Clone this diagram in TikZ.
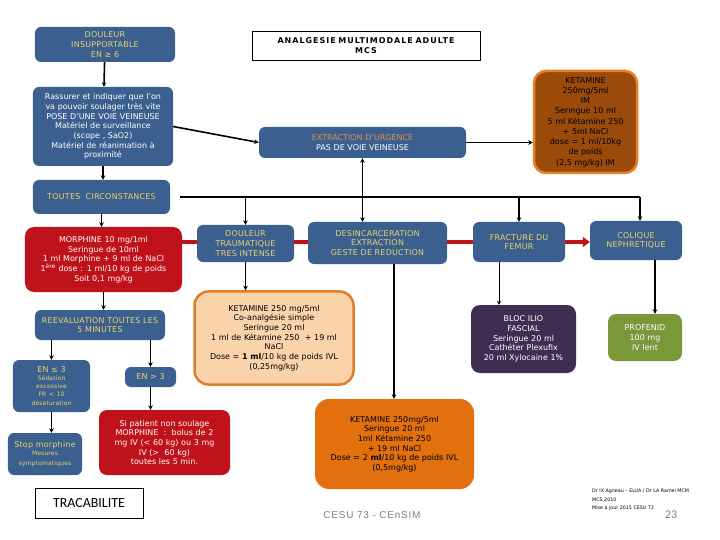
\documentclass[tikz,border=0pt]{standalone}
\usepackage{fontspec}
\setmainfont{DejaVu Sans}
\newfontfamily\calib{Carlito}
\newfontfamily\libsans[LetterSpace=8]{Liberation Sans}
\newfontfamily\capsfont[LetterSpace=3]{DejaVu Sans}
\usetikzlibrary{arrows.meta}
\definecolor{blueF}{HTML}{3B5F8E}
\definecolor{yellowT}{HTML}{E8D46C}
\definecolor{orangeT}{HTML}{E0904A}
\definecolor{redF}{HTML}{C0121A}
\definecolor{brownF}{HTML}{9A4B0C}
\definecolor{brownB}{HTML}{E8802A}
\definecolor{peachF}{HTML}{FAD3AB}
\definecolor{peachB}{HTML}{DC7E2A}
\definecolor{orangeF}{HTML}{E2700F}
\definecolor{purpleF}{HTML}{3E2F52}
\definecolor{greenF}{HTML}{7A973A}
\definecolor{greyT}{HTML}{808080}
\newcommand\fsz[2]{\fontsize{#1}{#2}\selectfont}
\tikzset{
  sz/.code 2 args={\pgfmathsetlengthmacro\mytw{#1*1bp-4bp}%
    \pgfkeysalso{minimum width=#1bp, minimum height=#2bp, text width=\mytw}},
  box/.style={rounded corners=6bp, inner sep=1bp, align=center, font=\fsz{8}{9.7}},
  bluebox/.style={box, fill=blueF, text=yellowT, font=\capsfont\fsz{8}{9.7}},
  redbox/.style={box, fill=redF, text=white},
  conn/.style={line width=1.6bp, -{Stealth[length=4.5bp,width=4.5bp]}},
  redconn/.style={line width=4.5bp, redF},
}
\begin{document}
\begin{tikzpicture}[x=1bp,y=-1bp]
\useasboundingbox (0,0) rectangle (720,540);
\fill[white] (0,0) rectangle (720,540);
% nodes
\node[bluebox, sz={140}{35}] (dinsup) at (105,44.5) {DOULEUR\\INSUPPORTABLE\\EN ≥ 6};
\node[draw=black, line width=0.8bp, sz={228}{29}, align=center, inner sep=1bp,
      font=\fsz{8}{10}\bfseries\addfontfeatures{LetterSpace=12.5}] (title) at (366,45.5)
      {ANALGESIE MULTIMODALE ADULTE\\MCS};
\node[box, fill=blueF, text=white, sz={140}{79}] (rass) at (103,126.5)
  {Rassurer et indiquer que l'on\\va pouvoir soulager très vite\\POSE D'UNE VOIE VEINEUSE\\Matériel de surveillance\\(scope , SaO2)\\Matériel de réanimation à\\proximité};
\node[box, fill=blueF, text=white, sz={207}{31}] (extr) at (362.5,142.5)
  {{\color{orangeT}EXTRACTION D'URGENCE}\\PAS DE VOIE VEINEUSE};
\node[box, fill=brownF, draw=brownB, line width=2.5bp, rounded corners=12bp, text=black,
      font=\fsz{8}{10.3}, sz={103}{102}] (ketim) at (585.5,122)
  {KETAMINE\\250mg/5ml\\IM\\Seringue 10 ml\\5 ml Kétamine 250\\+ 5ml NaCl\\dose = 1 ml/10kg\\de poids\\(2,5 mg/kg) IM};
\node[bluebox, sz={137}{34}] (toutes) at (101.5,197) {TOUTES\ \ CIRCONSTANCES};
\node[redbox, rounded corners=9bp, sz={157}{65}] (morph) at (103.5,259.5)
  {MORPHINE 10 mg/1ml\\Seringue de 10ml\\1 ml Morphine + 9 ml de NaCl\\1\textsuperscript{ère} dose : 1 ml/10 kg de poids\\Soit 0,1 mg/kg};
\node[bluebox, sz={97}{37}] (dtrau) at (245.5,243.5) {DOULEUR\\TRAUMATIQUE\\TRES INTENSE};
\node[bluebox, sz={139}{42}] (desinc) at (377.5,243) {DESINCARCERATION\\EXTRACTION\\GESTE DE REDUCTION};
\node[bluebox, sz={92}{40}] (fract) at (519,242) {FRACTURE DU\\FEMUR\\[8bp]};
\node[bluebox, sz={92}{39}] (coliq) at (636,240.5) {COLIQUE\\NEPHRETIQUE\\[6bp]};
\node[box, fill=peachF, draw=peachB, line width=2.5bp, rounded corners=14bp, text=black,
      sz={159}{93}] (ket1) at (274,338)
  {KETAMINE 250 mg/5ml\\Co-analgésie simple\\Seringue 20 ml\\1 ml de Kétamine 250 \ + 19 ml\\NaCl\\Dose = \textbf{1 ml}/10 kg de poids IVL\\(0,25mg/kg)};
\node[bluebox, sz={130}{30}] (reev) at (100,325) {REEVALUATION TOUTES LES\\5 MINUTES};
\node[bluebox, sz={77}{52}] (enle) at (51.5,386)
  {EN ≤ 3\\{\fsz{6}{8}Sédation\\excessive\\FR < 10\\désaturation}};
\node[bluebox, sz={51}{20}] (engt) at (150.5,377) {EN > 3};
\node[bluebox, sz={74}{42}] (stop) at (45,454) {Stop morphine\\{\fsz{6}{8}Mesures\\symptomatiques}};
\node[redbox, rounded corners=8bp, sz={131}{65}] (sipat) at (164.5,442.5)
  {Si patient non soulage\\MORPHINE \ : \ bolus de 2\\mg IV (< 60 kg) ou 3 mg\\IV (> \ 60 kg)\\toutes les 5 min.};
\node[box, fill=purpleF, text=white, rounded corners=9bp, sz={105}{68}] (bloc) at (523.5,339)
  {BLOC ILIO\\FASCIAL\\Seringue 20 ml\\Cathéter Plexufix\\20 ml Xylocaine 1\%};
\node[box, fill=greenF, text=white, rounded corners=8bp, sz={74}{47}] (prof) at (645,337.5)
  {PROFENID\\100 mg\\IV lent};
\node[box, fill=orangeF, text=black, rounded corners=14bp, sz={159}{90}] (ket2) at (394.5,444)
  {KETAMINE 250mg/5ml\\Seringue 20 ml\\1ml Kétamine 250\\+ 19 ml NaCl\\Dose = 2 \textbf{ml}/10 kg de poids IVL\\(0,5mg/kg)};
\node[draw=black, line width=0.8bp, sz={108}{30}, align=center, inner sep=1bp,
      font=\calib\fsz{14}{16}] (trac) at (89,503) {TRACABILITE};
\node[font=\libsans\fsz{10}{12}, text=greyT, inner sep=0] (cesu) at (372,515) {CESU 73 - CEnSIM};
\node[font=\fsz{4.8}{8.5}, align=left, anchor=west, inner sep=0] (foot) at (592,500)
  {Dr IX Agneau – ELUA / Dr LA Ramel MCM\\MCS 2010\\Mise à jour 2015 CESU 73};
\node[font=\calib\fsz{12}{14}, text=greyT, inner sep=0] (page) at (671,515) {23};
% helper coordinates
\coordinate (redline) at (0,242);
\coordinate (bus) at (0,197);
% connectors
\draw[conn] (dinsup) -- (rass);
\draw[conn] (rass) -- (rass.south |- toutes.north);
\draw[conn] (rass.east) -- (extr.west);
\draw[conn] (extr.east) -- (extr.east -| ketim.west);
\draw[line width=1.6bp, {Stealth[length=4.5bp,width=4.5bp]}-{Stealth[length=4.5bp,width=4.5bp]}]
  (extr.south) -- (extr.south |- desinc.north);
\coordinate (busstart) at ([xshift=10bp]toutes.east);
\coordinate (busend) at ([xshift=4bp]coliq.north |- bus);
\draw[line width=1.6bp] (busstart) -- (busend);
\draw[conn] (dtrau.north |- bus) -- (dtrau.north);
\draw[conn] (fract.north |- bus) -- (fract.north);
\draw[conn] (busend) -- (busend |- coliq.north);
\draw[conn] (toutes) -- (toutes.south |- morph.north);
\draw[conn] (morph.south |- morph.south) -- (morph.south |- reev.north);
\draw[redconn] (morph.east |- redline) -- (dtrau.west |- redline);
\draw[redconn] (dtrau.east |- redline) -- (desinc.west |- redline);
\draw[redconn] (desinc.east |- redline) -- (fract.west |- redline);
\draw[redconn, -{Triangle[length=7bp,width=10bp]}] (fract.east |- redline) -- (coliq.west |- redline);
\draw[conn] (enle.north |- reev.south) -- (enle.north);
\draw[conn] (engt.north |- reev.south) -- (engt.north);
\draw[conn] (enle.south) -- (enle.south |- stop.north);
\draw[conn] (engt.south) -- (engt.south |- sipat.north);
\draw[conn] (dtrau.south) -- (dtrau.south |- ket1.north);
\draw[conn] ([xshift=16.5bp]desinc.south) -- ([xshift=16.5bp]desinc.south |- ket2.north);
\draw[line width=1bp, -{Stealth[length=4bp,width=4bp]}] ([xshift=-20bp]fract.south) -- ([xshift=-20bp]fract.south |- bloc.north);
\draw[conn] ([xshift=19bp]coliq.south) -- ([xshift=19bp]coliq.south |- prof.north);
\end{tikzpicture}
\end{document}
